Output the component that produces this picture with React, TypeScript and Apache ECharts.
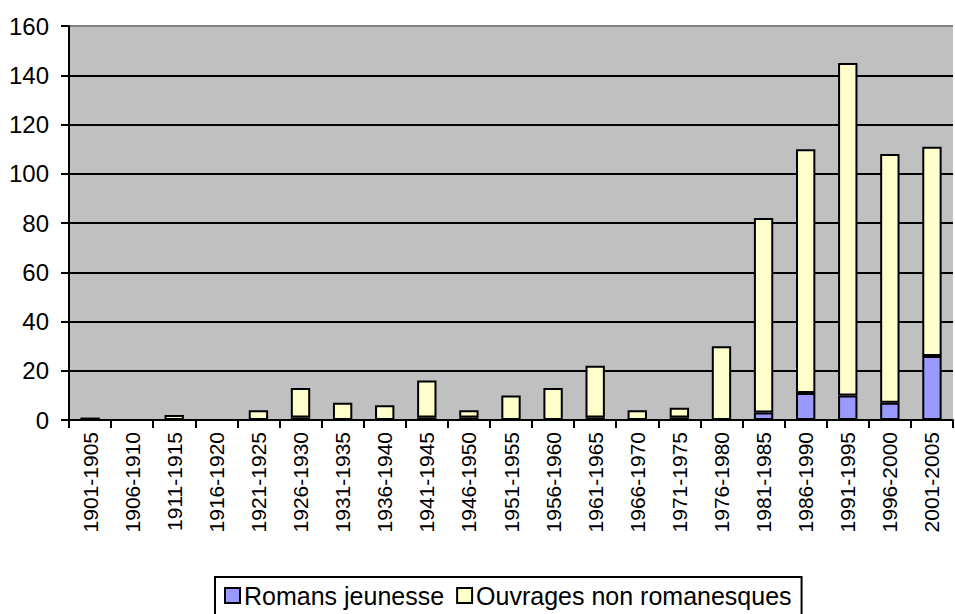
import React, { useEffect, useRef } from "react";
import * as echarts from "echarts";

const categories = [
  "1901-1905", "1906-1910", "1911-1915", "1916-1920", "1921-1925", "1926-1930", "1931-1935",
  "1936-1940", "1941-1945", "1946-1950", "1951-1955", "1956-1960", "1961-1965", "1966-1970",
  "1971-1975", "1976-1980", "1981-1985", "1986-1990", "1991-1995", "1996-2000", "2001-2005",
];
const romansJeunesse = [1, 0, 0, 0, 0, 1, 0, 0, 1, 1, 0, 0, 1, 0, 1, 0, 3, 11, 10, 7, 26];
const ouvragesNonRomanesques = [0, 0, 2, 0, 4, 12, 7, 6, 15, 3, 10, 13, 21, 4, 4, 30, 79, 99, 135, 101, 85];
const seriesNames = ["Romans jeunesse", "Ouvrages non romanesques"];
const yMin = 0;
const yMax = 160;
const yStep = 20;

const FONT = "Arial, 'Liberation Sans', sans-serif";

export default function App() {
  const ref = useRef<HTMLDivElement>(null);
  useEffect(() => {
    if (!ref.current) return;
    const chart = echarts.init(ref.current, null, { renderer: "svg" });
    const toData = (arr: number[]) => arr.map((v) => (v === 0 ? null : v));
    chart.setOption({
      animation: false,
      backgroundColor: "#ffffff",
      textStyle: { fontFamily: FONT },
      grid: {
        left: 69,
        right: 2,
        top: 26,
        bottom: 194,
        show: true,
        backgroundColor: "#C0C0C0",
        borderWidth: 0,
      },
      legend: {
        left: 215,
        top: 577,
        orient: "horizontal",
        data: seriesNames,
        icon: "rect",
        itemWidth: 15,
        itemHeight: 15,
        itemGap: 12,
        padding: [6, 10, 12, 9],
        borderColor: "#000",
        borderWidth: 2,
        backgroundColor: "#fff",
        textStyle: { fontSize: 25, color: "#000", fontFamily: FONT, padding: [0, 0, 0, -1] },
        itemStyle: { borderColor: "#000", borderWidth: 2 },
      },
      xAxis: {
        type: "category",
        data: categories,
        boundaryGap: true,
        axisLine: { show: true, lineStyle: { color: "#000", width: 2 } },
        axisTick: { show: true, length: 8, alignWithLabel: false, lineStyle: { color: "#000", width: 2 } },
        axisLabel: {
          rotate: 90,
          interval: 0,
          margin: 12,
          fontSize: 21,
          color: "#000",
          fontFamily: FONT,
        },
        splitLine: { show: false },
      },
      yAxis: {
        type: "value",
        min: yMin,
        max: yMax,
        interval: yStep,
        axisLine: { show: true, lineStyle: { color: "#000", width: 2 } },
        axisTick: { show: true, length: 8, lineStyle: { color: "#000", width: 2 } },
        axisLabel: { margin: 20, fontSize: 24, color: "#000", fontFamily: FONT },
        splitLine: {
          show: true,
          lineStyle: {
            color: ["#000", "#000", "#000", "#000", "#000", "#000", "#000", "#000", "#808080"],
            width: 2,
          },
        },
      },
      series: [
        {
          name: seriesNames[0],
          type: "bar",
          stack: "total",
          data: toData(romansJeunesse),
          barCategoryGap: "54%",
          itemStyle: { color: "#9999FF", borderColor: "#000", borderWidth: 2 },
        },
        {
          name: seriesNames[1],
          type: "bar",
          stack: "total",
          data: toData(ouvragesNonRomanesques),
          barCategoryGap: "54%",
          itemStyle: { color: "#FFFFCC", borderColor: "#000", borderWidth: 2 },
        },
      ],
    });
    return () => chart.dispose();
  }, []);
  return (
    <div
      ref={ref}
      style={{ position: "fixed", left: 0, top: 0, width: 955, height: 614 }}
    />
  );
}
